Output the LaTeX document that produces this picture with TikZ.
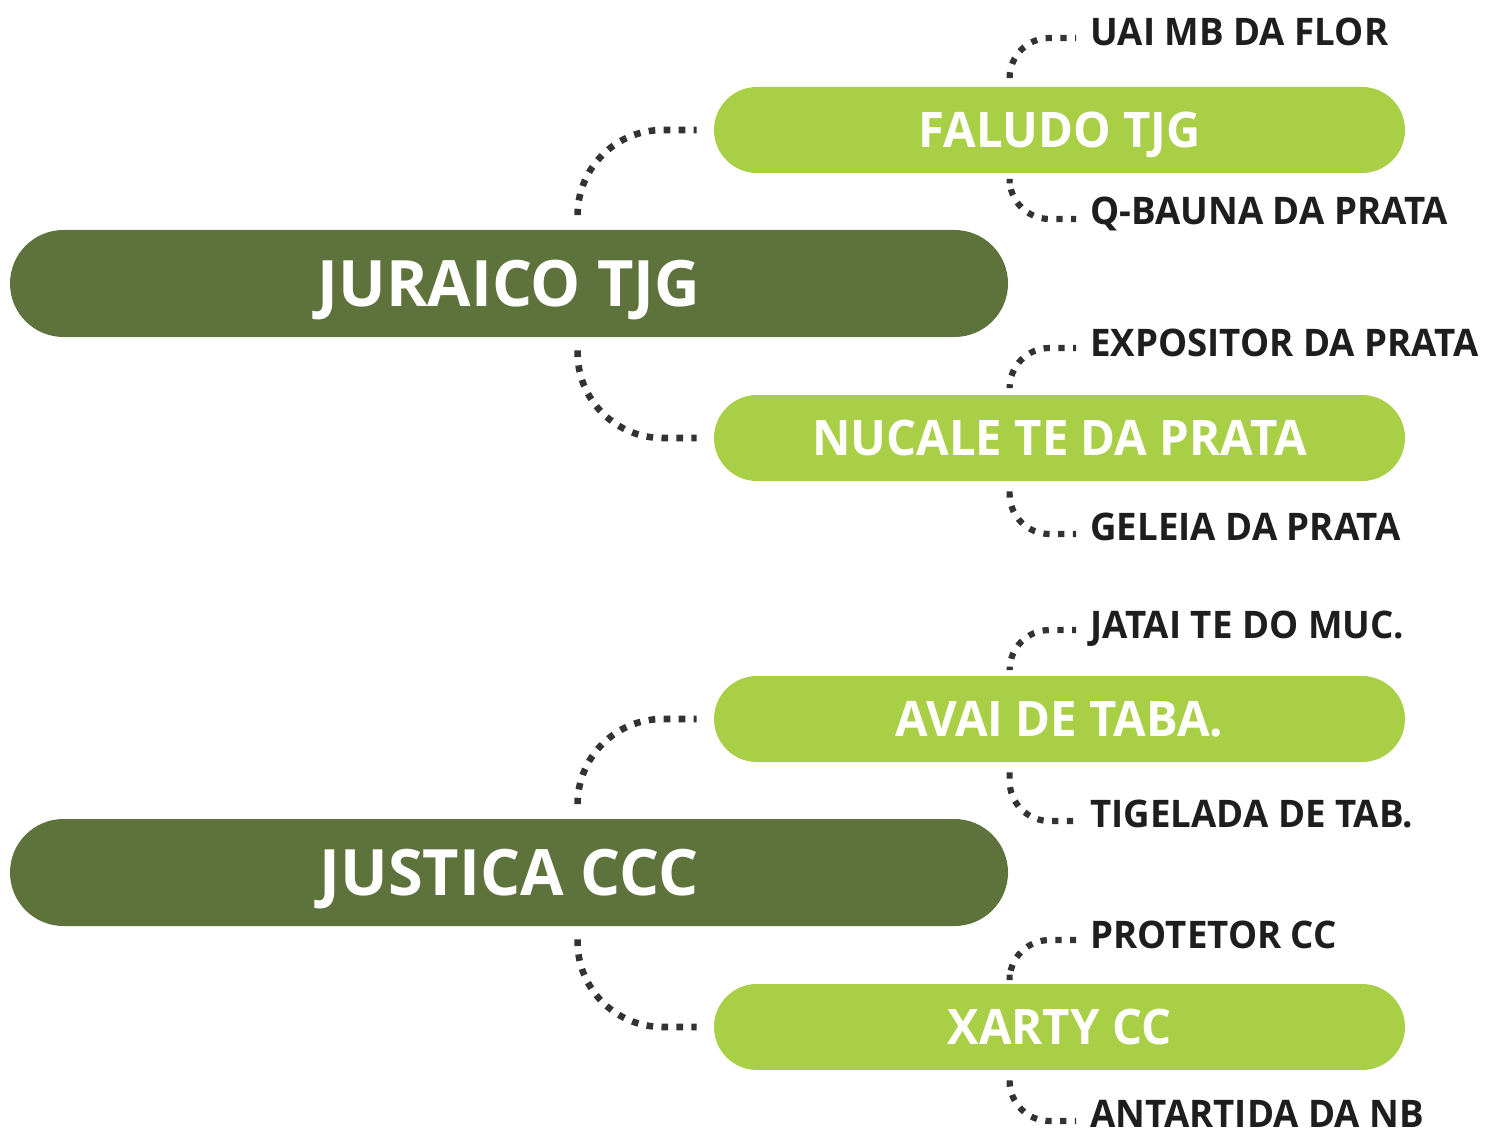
\documentclass[tikz,border=0pt]{standalone}
\usepackage{fontspec}
\setmainfont{Open Sans}
\newfontfamily\narrowfont{Open Sans}[FakeStretch=0.965]
\newfontfamily\bigfont{Open Sans}[FakeStretch=0.985]
\definecolor{darkg}{HTML}{5E723C}
\definecolor{lightg}{HTML}{A9CF47}
\definecolor{textdark}{HTML}{1E1E1E}
\definecolor{dotc}{HTML}{333333}
\begin{document}
\begin{tikzpicture}[x=0.5pt,y=-0.5pt,
  darkbox/.style={fill=darkg, text=white, minimum width=499pt, minimum height=53.5pt,
    rounded corners=26.75pt, inner sep=0pt, font=\bigfont\fontsize{32}{32}\selectfont\bfseries,
    text height=22.85pt, text depth=0pt},
  lightbox/.style={fill=lightg, text=white, minimum width=345.5pt, minimum height=43pt,
    rounded corners=21.5pt, inner sep=0pt, font=\narrowfont\fontsize{24.5}{24.5}\selectfont\bfseries,
    text height=17.5pt, text depth=0pt},
  leaf/.style={anchor=base west, inner sep=0pt, text=textdark,
    font=\narrowfont\fontsize{19}{19}\selectfont\bfseries},
  conn/.style={draw=dotc, line width=3.3pt, dash pattern=on 3.3pt off 4.2pt, rounded corners=42.5pt},
  sconn/.style={draw=dotc, line width=3.1pt, dash pattern=on 3.1pt off 4.3pt, rounded corners=20pt}
]
\useasboundingbox (0,0) rectangle (1488,1134);

% main boxes
\node[darkbox] (j) at (509,283.5) {JURAICO TJG};
\node[darkbox] (c) at (509,872.5) {JUSTICA CCC};

% second level
\node[lightbox] (f) at (1059.5,130) {FALUDO TJG};
\node[lightbox] (n) at (1059.5,438) {NUCALE TE DA PRATA};
\node[lightbox] (a) at (1059.5,719) {AVAI DE TABA.};
\node[lightbox] (x) at (1059.5,1027) {XARTY CC};

% leaves
\node[leaf] (f1) at (1090,46) {UAI MB DA FLOR};
\node[leaf] (f2) at (1090,225) {Q-BAUNA DA PRATA};
\node[leaf] (n1) at (1090,356) {EXPOSITOR DA PRATA};
\node[leaf] (n2) at (1090,540) {GELEIA DA PRATA};
\node[leaf] (a1) at (1090,638) {JATAI TE DO MUC.};
\node[leaf] (a2) at (1090,827) {TIGELADA DE TAB.};
\node[leaf] (x1) at (1090,948) {PROTETOR CC};
\node[leaf] (x2) at (1090,1127) {ANTARTIDA DA NB};

% main connectors
\foreach \p/\u/\d in {j/f/n, c/a/x}{
  \draw[conn] ([xshift=284pt,yshift=7.5pt]\p.north west) |- ([xshift=-8.5pt]\u.west);
  \draw[conn] ([xshift=284pt,yshift=-6.5pt]\p.south west) |- ([xshift=-8.5pt]\d.west);
}

% leaf connectors
\foreach \b in {f,n,a,x}{
  \draw[sconn] ([xshift=148pt,yshift=4.5pt]\b.north west) |- ([xshift=-7pt,yshift=4pt]\b1.base west);
  \draw[sconn] ([xshift=148pt,yshift=-5pt]\b.south west) |- ([xshift=-7pt,yshift=3pt]\b2.base west);
}
\end{tikzpicture}
\end{document}
